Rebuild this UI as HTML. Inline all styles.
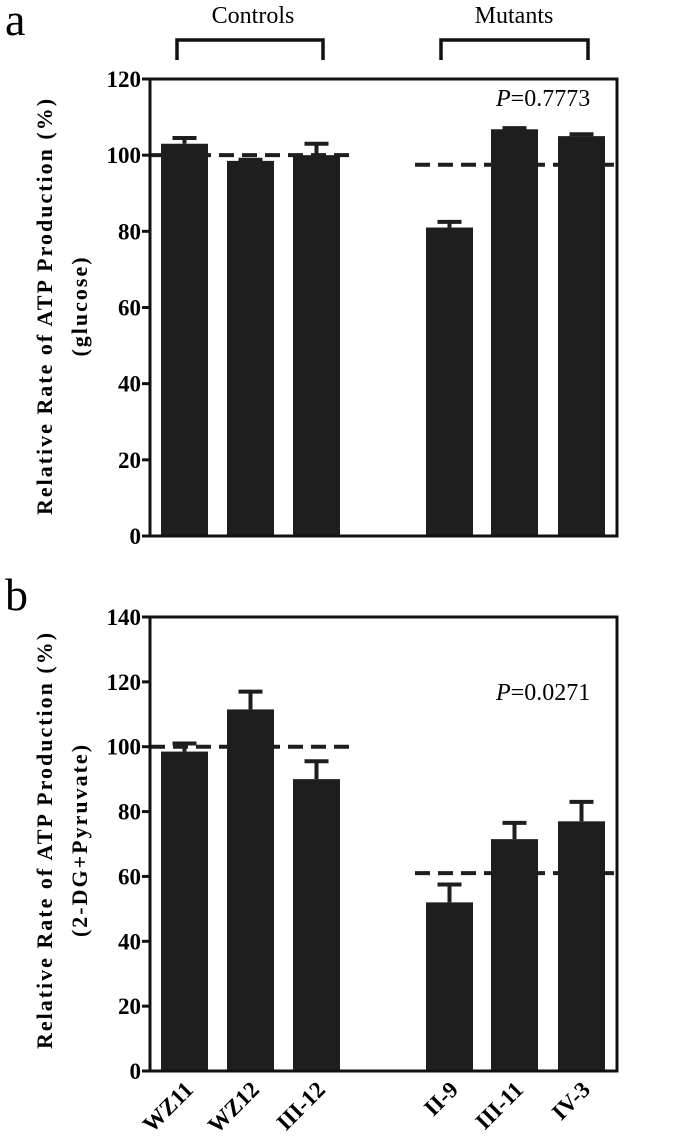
<!DOCTYPE html>
<html><head><meta charset="utf-8"><style>
html,body{margin:0;padding:0;background:#fff;}
svg{display:block;font-family:"Liberation Serif",serif;}
text{font-family:"Liberation Serif",serif;}
</style></head><body>
<svg id="chart" width="675" height="1148" viewBox="0 0 675 1148" xmlns="http://www.w3.org/2000/svg">
<text x="5" y="35" font-size="46">a</text>
<text x="5" y="610" font-size="46">b</text>
<text x="253" y="23" font-size="24" text-anchor="middle">Controls</text>
<text x="514" y="23" font-size="24" text-anchor="middle">Mutants</text>
<path d="M177,60 V40 H323 V60" fill="none" stroke="#111" stroke-width="3.5"/>
<path d="M441,60 V40 H588 V60" fill="none" stroke="#111" stroke-width="3.5"/>
<text transform="translate(52,306) rotate(-90)" font-size="22" font-weight="bold" letter-spacing="2" text-anchor="middle">Relative Rate of ATP Production (%)</text>
<text transform="translate(87,306) rotate(-90)" font-size="22" font-weight="bold" letter-spacing="2" text-anchor="middle">(glucose)</text>
<text transform="translate(52,840) rotate(-90)" font-size="22" font-weight="bold" letter-spacing="2" text-anchor="middle">Relative Rate of ATP Production (%)</text>
<text transform="translate(87,840) rotate(-90)" font-size="22" font-weight="bold" letter-spacing="2" text-anchor="middle">(2-DG+Pyruvate)</text>
<g id="panelA"></g>
<g id="panelB"></g>
</svg>
<script>
const categories = ["WZ11","WZ12","III-12","II-9","III-11","IV-3"];
const valuesA = [103, 98.5, 100, 81, 106.8, 105];
const errorsA = [1.5, 0.3, 3, 1.5, 0.3, 0.5];
const meansA = [100, 97.5];
const ticksA = [0,20,40,60,80,100,120];
const pTextA = "0.7773";
const valuesB = [98.5, 111.5, 90, 52, 71.5, 77];
const errorsB = [2.5, 5.5, 5.5, 5.5, 5, 6];
const meansB = [100, 61];
const ticksB = [0,20,40,60,80,100,120,140];
const pTextB = "0.0271";

const NS = "http://www.w3.org/2000/svg";
const barLeft = [161,227,293,426,491,558];
const barW = 47;
function mk(parent, tag, attrs){
  const e = document.createElementNS(NS, tag);
  for (const k in attrs) e.setAttribute(k, attrs[k]);
  parent.appendChild(e);
  return e;
}
function drawPanel(g, vals, errs, means, ticks, ptxt, y0, yTop, pY, showX){
  const maxV = ticks[ticks.length-1];
  const y = v => y0 - (y0 - yTop) * v / maxV;
  const xL = 150, xR = 617;
  vals.forEach((v,i)=>{
    const cx = barLeft[i] + barW/2;
    const eb = mk(g,'path',{d:`M${cx},${y(v)} V${y(v+errs[i])} M${cx-12},${y(v+errs[i])} H${cx+12}`,stroke:'#1e1e1e','stroke-width':4,fill:'none'});
    
    
    const r = mk(g,'rect',{x:barLeft[i],y:y(v),width:barW,height:y0-y(v),fill:'#1e1e1e'});
    
    
  });
  const m1 = mk(g,'line',{x1:xL,x2:357,y1:y(means[0]),y2:y(means[0]),stroke:'#1e1e1e','stroke-width':4,'stroke-dasharray':'15,8'});
  
  
  const m2 = mk(g,'line',{x1:415,x2:xR,y1:y(means[1]),y2:y(means[1]),stroke:'#1e1e1e','stroke-width':4,'stroke-dasharray':'15,8'});
  
  
  const fr = mk(g,'path',{d:`M${xL},${y0} V${yTop} H${xR} V${y0} H${xL}`,fill:'none',stroke:'#111','stroke-width':3});
  
  
  ticks.forEach(t=>{
    const tk = mk(g,'line',{x1:142,x2:xL,y1:y(t),y2:y(t),stroke:'#111','stroke-width':3});
    
    
    const tl = mk(g,'text',{x:141,y:y(t)+8,'font-size':23,'font-weight':'bold','text-anchor':'end'});
    tl.textContent = t;
    
    
  });
  const p = mk(g,'text',{x:496,y:pY,'font-size':24});
  p.innerHTML = '<tspan font-style="italic">P</tspan>=' + ptxt;
  
  
  if (showX){
    categories.forEach((c,i)=>{
      const cx = barLeft[i] + barW/2 + 10;
      const xl = mk(g,'text',{transform:`translate(${cx},${y0+20}) rotate(-45)`,'font-size':23,'font-weight':'bold','text-anchor':'end'});
      xl.textContent = c;
      
      
    });
  }
}
drawPanel(document.getElementById('panelA'), valuesA, errorsA, meansA, ticksA, pTextA, 536, 79, 106, false);
drawPanel(document.getElementById('panelB'), valuesB, errorsB, meansB, ticksB, pTextB, 1071, 617, 700, true);
</script>
</body></html>
